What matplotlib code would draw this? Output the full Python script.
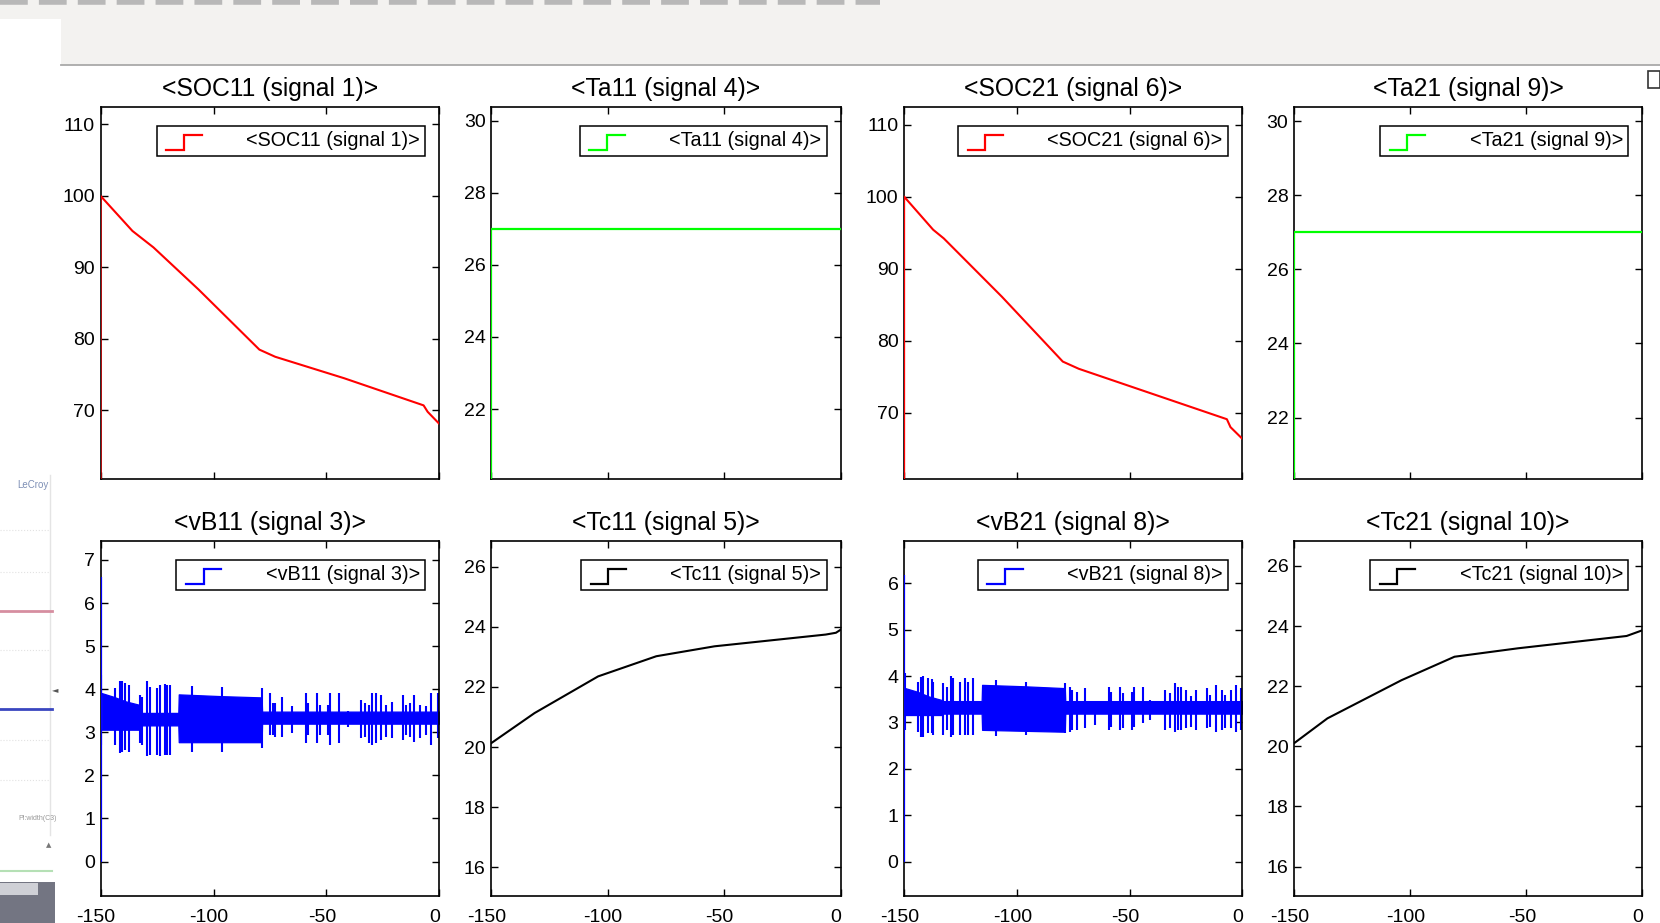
"""
    Scope view of the two battery packs: SOC, ambient temp, voltage and cell temp
    over the last 150 s. Values read off the Simulink scope screenshot.
"""
#%%
import matplotlib.pyplot as plt
import matplotlib.transforms as mtransforms
from matplotlib.lines import Line2D
from matplotlib.patches import Rectangle
from matplotlib.legend_handler import HandlerBase

plt.rcParams["font.family"] = ["Liberation Sans", "DejaVu Sans"]
plt.rcParams["axes.unicode_minus"] = False

#%%
# ---------------- data (time axis -150 .. 0 s) ----------------
soc11_t = [-150, -150, -135.9, -126.6, -106.6, -79.7, -72.7, -42.2, -7.0, -5.2, 0]
soc11_v = [0, 100, 95.1, 92.8, 86.9, 78.5, 77.5, 74.5, 70.7, 69.8, 68.1]

soc21_t = [-150, -150, -137.1, -132.4, -106.6, -79.6, -72.5, -6.8, -5.2, 0]
soc21_v = [0, 100, 95.4, 94.2, 86.1, 77.1, 76.1, 69.1, 68.0, 66.4]

ta11_t = [-150, -150, 0]
ta11_v = [0, 27, 27]
ta21_t = [-150, -150, 0]
ta21_v = [0, 27, 27]

tc11_t = [-150, -131.4, -104.1, -79.1, -54.1, -6.4, -2.0, 0]
tc11_v = [20.13, 21.13, 22.35, 23.02, 23.35, 23.74, 23.8, 23.9]
tc21_t = [-150, -135.6, -103.7, -80.9, -53.6, -6.8, 0]
tc21_v = [20.1, 20.93, 22.2, 22.98, 23.26, 23.67, 23.86]

# battery voltage: start step, ripple envelope and the individual spikes
vb11_start = [0, 6.61]
vb11_band_t = [-149.5, -144, -139, -133, -132.6, -115.6, -115.4, -97, -78.7, -78.5, 0]
vb11_band_hi = [3.91, 3.82, 3.72, 3.64, 3.45, 3.45, 3.88, 3.84, 3.81, 3.48, 3.48]
vb11_band_lo = [3.06, 3.06, 3.06, 3.06, 3.16, 3.16, 2.77, 2.77, 2.77, 3.20, 3.20]
vb11_spk_t = [-149.7, -143.8, -141.5, -140.5, -139.3, -137.4, -132.7, -131.5, -129.3, -128.0,
              -124.9, -123.6, -121.6, -120.5, -119.3, -109.5, -96.3, -78.5, -75.1, -73.7,
              -72.7, -69.6, -65.3, -59.2, -58.2, -54.1, -53.0, -49.3, -48.4, -44.5,
              -40.5, -34.6, -33.1, -31.3, -29.8, -28.2, -25.7, -23.5, -20.9, -16.1,
              -14.7, -13.2, -11.1, -8.7, -5.8, -3.6, -0.6]
vb11_spk_hi = [4.32, 4.02, 4.18, 4.18, 4.14, 4.10, 3.87, 3.83, 4.18, 4.06,
               4.02, 4.10, 4.11, 4.10, 4.10, 4.08, 4.05, 4.02, 3.91, 3.67,
               3.67, 3.83, 3.60, 3.91, 3.67, 3.91, 3.64, 3.64, 3.91, 3.91,
               3.50, 3.75, 3.67, 3.64, 3.91, 3.91, 3.87, 3.64, 3.71, 3.87,
               3.64, 3.67, 3.87, 3.64, 3.60, 3.91, 3.91]
vb11_spk_lo = [2.70, 2.71, 2.52, 2.55, 2.59, 2.55, 2.75, 2.71, 2.44, 2.48,
               2.48, 2.44, 2.48, 2.48, 2.48, 2.55, 2.55, 2.63, 2.94, 2.94,
               2.90, 2.90, 2.98, 2.75, 2.94, 2.75, 2.94, 2.94, 2.71, 2.75,
               3.13, 2.86, 2.90, 2.75, 2.71, 2.75, 2.82, 2.90, 2.86, 2.82,
               2.94, 2.90, 2.78, 2.86, 2.94, 2.71, 2.86]

vb21_start = [0, 6.18]
vb21_band_t = [-149.5, -144, -139, -133, -132.6, -115.6, -115.4, -97, -78.7, -78.5, 0]
vb21_band_hi = [3.74, 3.66, 3.56, 3.48, 3.46, 3.46, 3.81, 3.78, 3.74, 3.46, 3.46]
vb21_band_lo = [3.16, 3.16, 3.16, 3.16, 3.19, 3.19, 2.84, 2.82, 2.80, 3.19, 3.19]
vb21_spk_t = [-149.7, -143.7, -142.6, -141.5, -139.5, -137.8, -137.0, -132.6, -131.1, -129.3,
              -128.2, -125.2, -123.0, -121.5, -119.3, -109.2, -95.9, -78.6, -76.3, -75.6,
              -73.1, -69.7, -65.2, -59.3, -58.3, -54.1, -52.9, -48.9, -47.8, -44.0,
              -40.8, -34.1, -31.9, -30.0, -28.7, -27.0, -24.8, -22.7, -20.4, -15.6,
              -14.1, -11.5, -9.0, -7.5, -4.8, -2.8, -0.6]
vb21_spk_hi = [4.07, 3.88, 3.99, 4.00, 3.95, 3.93, 3.88, 3.84, 3.76, 4.00,
               3.95, 3.88, 3.95, 3.88, 3.95, 3.92, 3.88, 3.84, 3.77, 3.70,
               3.66, 3.74, 3.45, 3.77, 3.66, 3.77, 3.63, 3.66, 3.77, 3.77,
               3.48, 3.70, 3.63, 3.84, 3.77, 3.77, 3.70, 3.56, 3.70, 3.74,
               3.59, 3.81, 3.70, 3.59, 3.70, 3.81, 3.74]
vb21_spk_lo = [2.84, 2.80, 2.69, 2.69, 2.77, 2.77, 2.73, 2.73, 2.84, 2.69,
               2.73, 2.73, 2.73, 2.73, 2.73, 2.71, 2.73, 2.77, 2.80, 2.84,
               2.84, 2.87, 2.95, 2.84, 2.91, 2.84, 2.87, 2.84, 2.91, 2.98,
               3.05, 2.84, 2.87, 2.80, 2.84, 2.84, 2.87, 2.91, 2.84, 2.87,
               2.91, 2.80, 2.84, 2.87, 2.87, 2.80, 2.84]

x_ticks = [-150, -100, -50, 0]

#%%
W, H = 1660, 923
fig = plt.figure(figsize=(W / 100, H / 100), dpi=100)
fig.patch.set_facecolor("white")

# the scope renders its x tick labels a few pixels left of the ticks
xlabel_shift = mtransforms.ScaledTranslation(-4.5 / 100, 0, fig.dpi_scale_trans)


def px_rect(x0, y0, x1, y1):
    # pixel box (top-left origin) -> figure fraction [l, b, w, h]
    return [x0 / W, 1 - y1 / H, (x1 - x0) / W, (y1 - y0) / H]


class StepHandler(HandlerBase):
    # legend glyph drawn as a small rising step, like the scope legend
    def create_artists(self, legend, orig_handle, xdescent, ydescent,
                       width, height, fontsize, trans):
        x0, y0 = -xdescent + 3, -ydescent - 2.5
        w = width - 3
        xs = [x0, x0 + w / 2, x0 + w / 2, x0 + w]
        ys = [y0, y0, y0 + height, y0 + height]
        line = Line2D(xs, ys, color=orig_handle.get_color(), lw=1.6,
                      solid_joinstyle="miter")
        line.set_transform(trans)
        return [line]


col_px = [(100.6, 439.4), (491.2, 840.6), (904.1, 1242.2), (1294.0, 1642.4)]
row_px = [(107.3, 479.0), (541.0, 896.0)]


def make_axes(row, col, title, color, ylim, yticks):
    x0, x1 = col_px[col]
    y0, y1 = row_px[row]
    ax = fig.add_axes(px_rect(x0, y0, x1, y1))
    ax.set_xlim(-150, 0)
    ax.set_ylim(*ylim)
    ax.set_xticks(x_ticks)
    ax.set_yticks(yticks)
    ax.tick_params(direction="in", top=True, right=True, length=5, width=1,
                   labelsize=14, pad=4)
    ax.tick_params(axis="x", pad=9, labelbottom=(row == 1))
    for lab in ax.get_xticklabels():
        lab.set_transform(lab.get_transform() + xlabel_shift)
    for s in ax.spines.values():
        s.set_linewidth(1.2)
    ax.set_title(title, fontsize=17.8, pad=8)

    handle = Line2D([], [], color=color)
    ax.legend([handle], [title], handler_map={Line2D: StepHandler()},
              loc="upper right",
              bbox_to_anchor=(1 - 14 / (x1 - x0), 1 - 18.5 / (y1 - y0)),
              borderaxespad=0, fontsize=14.2, fancybox=False, framealpha=1,
              edgecolor="black", borderpad=0.28, handlelength=2.0,
              handleheight=0.8, handletextpad=2.25)
    ax.get_legend().get_frame().set_linewidth(1.1)
    ax.get_legend().set_zorder(5)
    return ax


def draw_vb(ax, start, band_t, band_hi, band_lo, spk_t, spk_hi, spk_lo):
    ax.vlines(-150, start[0], start[1], color="#0000ff", lw=1.6, zorder=3)
    ax.fill_between(band_t, band_lo, band_hi, color="#0000ff", lw=0.9)
    ax.vlines(spk_t, spk_lo, spk_hi, color="#0000ff", lw=1.5)


# --------------------------------------
# Top row
# --------------------------------------
ax = make_axes(0, 0, "<SOC11 (signal 1)>", "#ff0000", (60.4, 112.4), [70, 80, 90, 100, 110])
ax.plot(soc11_t, soc11_v, color="#ff0000", lw=1.5, zorder=3)

ax = make_axes(0, 1, "<Ta11 (signal 4)>", "#00ff00", (20.06, 30.37), [22, 24, 26, 28, 30])
ax.plot(ta11_t, ta11_v, color="#00ff00", lw=1.6, zorder=3)

ax = make_axes(0, 2, "<SOC21 (signal 6)>", "#ff0000", (60.8, 112.4), [70, 80, 90, 100, 110])
ax.plot(soc21_t, soc21_v, color="#ff0000", lw=1.5, zorder=3)

ax = make_axes(0, 3, "<Ta21 (signal 9)>", "#00ff00", (20.34, 30.38), [22, 24, 26, 28, 30])
ax.plot(ta21_t, ta21_v, color="#00ff00", lw=1.6, zorder=3)

# --------------------------------------
# Bottom row
# --------------------------------------
ax = make_axes(1, 0, "<vB11 (signal 3)>", "#0000ff", (-0.8, 7.44), list(range(0, 8)))
draw_vb(ax, vb11_start, vb11_band_t, vb11_band_hi, vb11_band_lo,
        vb11_spk_t, vb11_spk_hi, vb11_spk_lo)

ax = make_axes(1, 1, "<Tc11 (signal 5)>", "black", (15.05, 26.85), [16, 18, 20, 22, 24, 26])
ax.plot(tc11_t, tc11_v, color="black", lw=1.5, zorder=3)

ax = make_axes(1, 2, "<vB21 (signal 8)>", "#0000ff", (-0.74, 6.91), list(range(0, 7)))
draw_vb(ax, vb21_start, vb21_band_t, vb21_band_hi, vb21_band_lo,
        vb21_spk_t, vb21_spk_hi, vb21_spk_lo)

ax = make_axes(1, 3, "<Tc21 (signal 10)>", "black", (15.02, 26.83), [16, 18, 20, 22, 24, 26])
ax.plot(tc21_t, tc21_v, color="black", lw=1.5, zorder=3)

# --------------------------------------
# window chrome around the scope (screenshot leftovers)
# --------------------------------------
tf = fig.transFigure
fig.add_artist(Rectangle((0, 1 - 65 / H), 1, 65 / H, transform=tf,
                         facecolor="#f3f2f0", edgecolor="none", zorder=0))
fig.add_artist(Rectangle((0, 1 - 65 / H), 61 / W, 46 / H, transform=tf,
                         facecolor="white", edgecolor="none", zorder=0))
fig.add_artist(Line2D([61 / W, 1], [1 - 65 / H] * 2, transform=tf,
                      color="#a9a9a9", lw=1.3))
fig.add_artist(Line2D([0, 880 / W], [1 - 2 / H] * 2, transform=tf,
                      color="#b8b8b8", lw=4, dashes=(5, 2)))
fig.add_artist(Rectangle((1648 / W, 1 - 88 / H), 12 / W, 17 / H, transform=tf,
                         facecolor="white", edgecolor="#333333", lw=1.2))

# faded oscilloscope strip on the far left
fig.add_artist(Line2D([50 / W, 50 / W], [1 - 475 / H, 1 - 835 / H], transform=tf,
                      color="#e4e4e4", lw=1))
for yy in [530, 572, 650, 740, 780]:
    fig.add_artist(Line2D([0, 50 / W], [1 - yy / H] * 2, transform=tf,
                          color="#e2e2e2", lw=0.8, ls=":"))
fig.add_artist(Line2D([0, 52 / W], [1 - 611 / H] * 2, transform=tf, color="#d68ea0", lw=2))
fig.add_artist(Line2D([0, 52 / W], [1 - 709 / H] * 2, transform=tf, color="#3a46c0", lw=2))
fig.add_artist(Line2D([0, 52 / W], [1 - 871 / H] * 2, transform=tf, color="#b5e0b5", lw=1.5))
fig.text(48 / W, 1 - 485 / H, "LeCroy", transform=tf, fontsize=7, color="#7d8fb5",
         ha="right", va="center")
fig.text(55 / W, 1 - 690 / H, "\u25c4", transform=tf, fontsize=6, color="#555555",
         ha="center", va="center", family=["DejaVu Sans"])
fig.text(57 / W, 1 - 818 / H, "Pl:width(C3)", transform=tf, fontsize=5, color="#999999",
         ha="right", va="center")
fig.text(49 / W, 1 - 845 / H, "\u25b2", transform=tf, fontsize=5, color="#777777",
         ha="center", va="center", family=["DejaVu Sans"])
fig.add_artist(Rectangle((0, 0), 55 / W, 41 / H, transform=tf,
                         facecolor="#5a5d6c", edgecolor="none", alpha=0.85))
fig.add_artist(Rectangle((0, 28 / H), 38 / W, 12 / H, transform=tf,
                         facecolor="#cfd0d6", edgecolor="none"))

fig.savefig("out.png", dpi=100)
